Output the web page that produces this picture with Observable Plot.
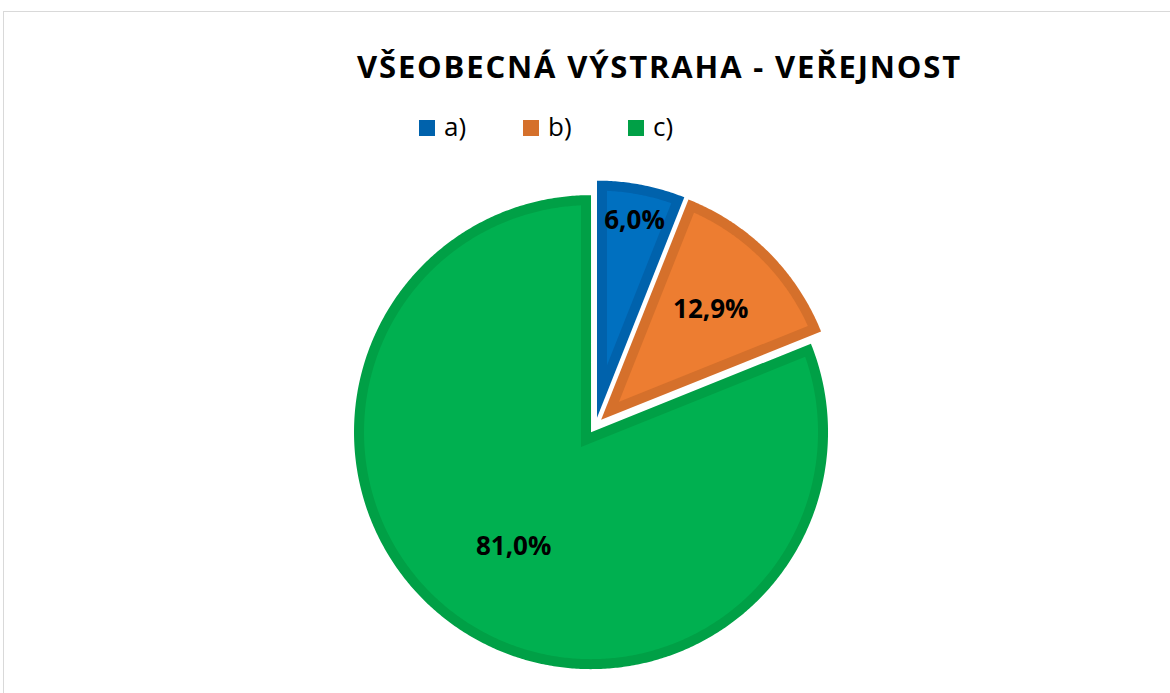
<!DOCTYPE html>
<html><head><meta charset="utf-8">
<script src="https://cdn.jsdelivr.net/npm/d3@7"></script>
<script src="https://cdn.jsdelivr.net/npm/@observablehq/plot@0.6"></script>
<style>
html,body{margin:0;padding:0;background:#fff;overflow:hidden;width:1170px;height:693px;}
#frame{position:absolute;left:3px;top:11px;width:1200px;height:720px;border:1px solid #d9d9d9;box-sizing:border-box;}
#title{position:absolute;left:357px;top:51px;font:700 31px "Open Sans";line-height:31px;white-space:nowrap;color:#000;}
.item{position:absolute;top:113px;height:26px;font:400 26px "Open Sans";line-height:26px;color:#000;white-space:nowrap}
.sw{position:absolute;left:0;top:7px;width:16px;height:16px}
.lab{position:absolute;left:25px;top:0}
#chart{position:absolute;left:0;top:150px;}
</style></head><body>
<div id="frame"></div>
<div id="title"></div>
<div id="legend"></div>
<div id="chart"></div>
<script>
// ---- data ----
const chartTitle = "VŠEOBECNÁ VÝSTRAHA - VEŘEJNOST";
const categories = ["a)", "b)", "c)"];
const values = [6.0, 12.9, 81.0];
const fillColors = ["#0070C0", "#ED7D31", "#00B050"];
const bandColors = ["#0062AC", "#D5702B", "#00A046"];

// ---- title ----
const t = document.getElementById("title");
t.textContent = chartTitle;
const tw = t.getBoundingClientRect().width;
t.style.letterSpacing = ((605 - tw) / chartTitle.length) + "px";

// ---- legend ----
const legendLeft = [419, 523, 628];
const lg = document.getElementById("legend");
categories.forEach((c, i) => {
  const it = document.createElement("div");
  it.className = "item";
  it.style.left = legendLeft[i] + "px";
  const sw = document.createElement("div");
  sw.className = "sw"; sw.style.background = bandColors[i];
  const lb = document.createElement("div");
  lb.className = "lab"; lb.textContent = c;
  it.appendChild(sw); it.appendChild(lb); lg.appendChild(it);
});

// ---- pie geometry ----
const W = 1170, H = 543;
const CX = 595, CY = 275;
const R = 237, BAND = 10, EXPLODE = 8, STEP = Math.PI / 360;
const labelFactor = [0.844, 0.656, 0.583];
const data = categories.map((c, i) => ({key: c, value: values[i], i}));
const arcs = d3.pie().sort(null).value(d => d.value)(data);

function arcPts(ox, oy, r, a0, a1) {
  const n = Math.max(2, Math.ceil((a1 - a0) / STEP));
  const pts = [];
  for (let j = 0; j <= n; j++) {
    const a = a0 + (a1 - a0) * j / n;
    pts.push({x: ox + r * Math.sin(a), y: oy + r * Math.cos(a)});
  }
  return pts;
}

const marks = [];
const labels = [];
arcs.forEach((p, i) => {
  const a0 = p.startAngle, a1 = p.endAngle;
  const m = (a0 + a1) / 2, half = (a1 - a0) / 2;
  const ox = EXPLODE * Math.sin(m), oy = EXPLODE * Math.cos(m);
  const outer = [{x: ox, y: oy}, ...arcPts(ox, oy, R, a0, a1)];
  const k = BAND / Math.sin(half);
  const qx = k * Math.sin(m), qy = k * Math.cos(m);
  const r = R - BAND;
  const qu = k * Math.cos(half);
  const s = -qu + Math.sqrt(qu * qu - k * k + r * r);
  const px = qx + s * Math.sin(a0), py = qy + s * Math.cos(a0);
  const b0 = Math.atan2(px, py);
  let delta = b0 - a0;
  delta = ((delta % (2 * Math.PI)) + 3 * Math.PI) % (2 * Math.PI) - Math.PI;
  const inner = [{x: ox + qx, y: oy + qy}, ...arcPts(ox, oy, r, a0 + delta, a1 - delta)];
  marks.push(Plot.line(outer, {x: "x", y: "y", fill: bandColors[i], stroke: "none", curve: "linear-closed"}));
  marks.push(Plot.line(inner, {x: "x", y: "y", fill: fillColors[i], stroke: "none", curve: "linear-closed"}));
  const lr = labelFactor[i] * R;
  labels.push({x: ox + lr * Math.sin(m), y: oy + lr * Math.cos(m),
    text: p.data.value.toFixed(1).replace(".", ",") + "%"});
});
marks.push(Plot.text(labels, {x: "x", y: "y", text: "text", fontSize: 26, fontWeight: "bold", fill: "#000"}));

const chart = Plot.plot({
  width: W, height: H, margin: 0,
  x: {domain: [-CX, W - CX], axis: null},
  y: {domain: [CY - H, CY], axis: null},
  style: {fontFamily: "Open Sans", background: "transparent", overflow: "visible"},
  marks
});
document.getElementById("chart").appendChild(chart);
</script>
</body></html>
